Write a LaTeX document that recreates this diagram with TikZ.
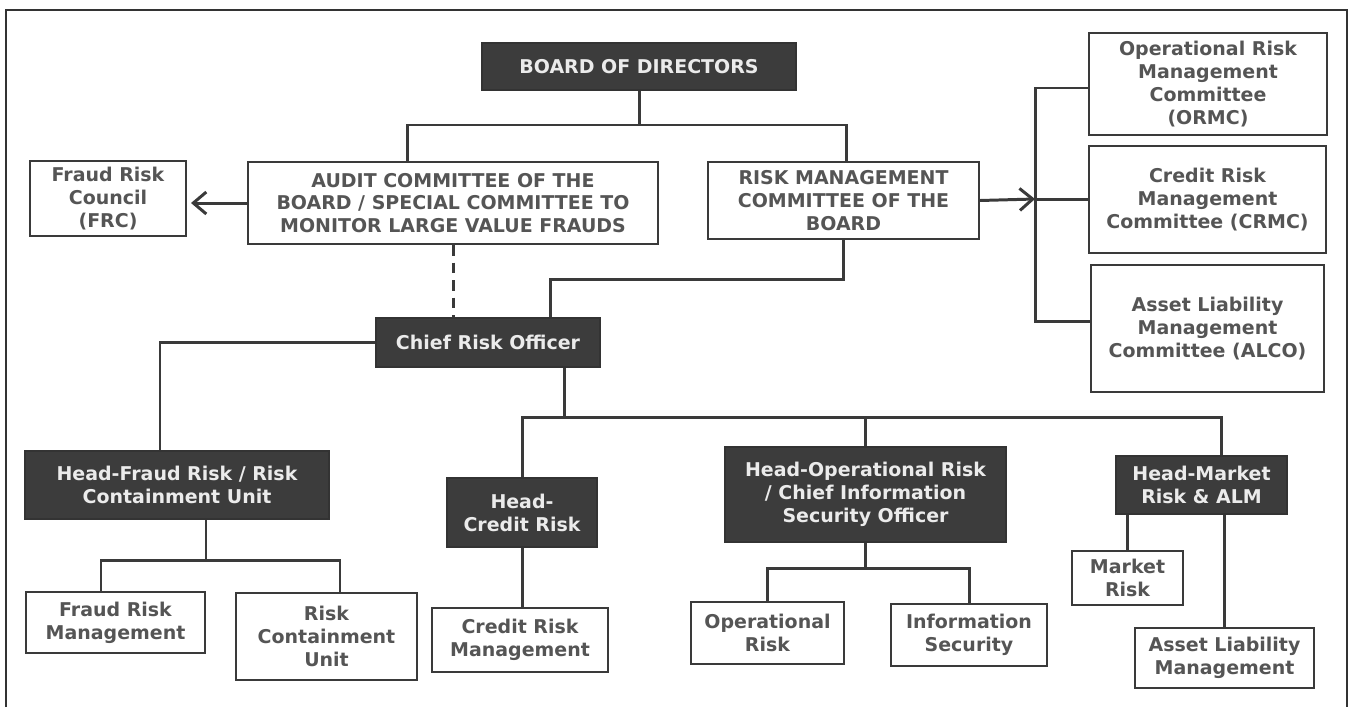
\documentclass[tikz,border=0pt]{standalone}
\usepackage{fontspec}
\setmainfont{DejaVu Sans}
\usetikzlibrary{arrows.meta}
\definecolor{Ink}{HTML}{3A3A3A}
\definecolor{Frame}{HTML}{333333}
\definecolor{DarkBox}{HTML}{3C3C3C}
\definecolor{Label}{HTML}{555555}
\tikzset{
  dims/.style 2 args={minimum width=#1*0.02cm,minimum height=#2*0.02cm},
  unit/.style={draw=Ink,fill=white,line width=1.1pt,align=center,inner sep=0pt,
    text=Label,font=\fontsize{10.8}{13}\selectfont\bfseries},
  head/.style={unit,fill=DarkBox,draw=Frame,text=white!92!black},
  link/.style={Ink,line width=1.7pt},
  tip/.style={-{Straight Barb[length=2.6mm,width=4.4mm]}},
}
\begin{document}
\begin{tikzpicture}[x=0.02cm,y=-0.02cm]
  \useasboundingbox (0,0) rectangle (1351,707);
  \draw[Frame,line width=1.1pt] (6,707) -- (6,10) -- (1347,10) -- (1347,707);
  % board level
  \node[head,dims={314}{47}] (board) at (639,66.5) {BOARD OF DIRECTORS};
  \node[unit,dims={410}{82}] (audit) at (453,203) {AUDIT COMMITTEE OF THE\\BOARD / SPECIAL COMMITTEE TO\\MONITOR LARGE VALUE FRAUDS};
  \node[unit,dims={156}{75}] (frc) at (108,198.5) {Fraud Risk\\Council\\(FRC)};
  \node[unit,dims={271}{77}] (rmc) at (843.5,200.5) {RISK MANAGEMENT\\COMMITTEE OF THE\\BOARD};
  \node[unit,dims={238}{102}] (ormc) at (1208,84) {Operational Risk\\Management\\Committee\\(ORMC)};
  \node[unit,dims={237}{107}] (crmc) at (1207.5,199.5) {Credit Risk\\Management\\Committee (CRMC)};
  \node[unit,dims={233}{127}] (alco) at (1207.5,328.5) {Asset Liability\\Management\\Committee (ALCO)};
  % officers
  \node[head,dims={224}{49}] (cro) at (488,342.5) {Chief Risk Officer};
  \node[head,dims={304}{68}] (hfraud) at (177,485) {Head-Fraud Risk / Risk\\Containment Unit};
  \node[head,dims={150}{69}] (hcredit) at (522,512.5) {Head-\\Credit Risk};
  \node[head,dims={281}{95}] (hop) at (865.5,494.5) {Head-Operational Risk\\/ Chief Information\\Security Officer};
  \node[head,dims={171}{58}] (hmarket) at (1201.5,485) {Head-Market\\Risk \& ALM};
  % functions
  \node[unit,dims={179}{61}] (frm) at (115.5,622.5) {Fraud Risk\\Management};
  \node[unit,dims={181}{87}] (rcu) at (326.5,636.5) {Risk\\Containment\\Unit};
  \node[unit,dims={176}{64}] (crm) at (520,640) {Credit Risk\\Management};
  \node[unit,dims={153}{62}] (oprisk) at (767.5,633) {Operational\\Risk};
  \node[unit,dims={156}{62}] (infosec) at (969,635) {Information\\Security};
  \node[unit,dims={111}{54}] (mrisk) at (1127.5,578) {Market\\Risk};
  \node[unit,dims={179}{60}] (alm) at (1224.5,658) {Asset Liability\\Management};
  % board connectors
  \coordinate (b1) at (407,125);
  \coordinate (b2) at (846,125);
  \draw[link] (board.south) -- (board.south |- b1);
  \draw[link] (b1 |- audit.north) -- (b1) -- (b2) -- (b2 |- rmc.north);
  \coordinate (a1) at (191,0);
  \draw[link,tip] (audit.west) -- (audit.west -| a1);
  \coordinate (r1) at (1035,88);
  \coordinate (r2) at (1035,199);
  \coordinate (r3) at (1035,321);
  \draw[link,tip] (rmc.east) -- (r2);
  \draw[link] (r1 -| ormc.west) -- (r1) -- (r3) -- (r3 -| alco.west);
  \draw[link] (r2) -- (r2 -| crmc.west);
  \draw[link,dashed,dash pattern=on 6pt off 4pt] (audit.south) -- (audit.south |- cro.north);
  \coordinate (c1) at (550,279);
  \draw[link] (rmc.south) |- (c1) -- (c1 |- cro.north);
  % officer connectors
  \coordinate (f1) at (160,0);
  \draw[link] (cro.west) -| (f1 |- hfraud.north);
  \coordinate (c2) at (564,417);
  \coordinate (m1) at (1221,0);
  \draw[link] (cro.south -| c2) -- (c2);
  \draw[link] (hcredit.north) |- (m1 |- c2) -- (m1 |- hmarket.north);
  \draw[link] (hop.north) -- (hop.north |- c2);
  % function connectors
  \coordinate (f2) at (206,560);
  \coordinate (f3) at (101,560);
  \coordinate (f4) at (340,560);
  \draw[link] (hfraud.south -| f2) -- (f2);
  \draw[link] (f3 |- frm.north) -- (f3) -- (f4) -- (f4 |- rcu.north);
  \draw[link] (hcredit.south) -- (hcredit.south |- crm.north);
  \coordinate (o1) at (0,568);
  \draw[link] (hop.south) -- (hop.south |- o1);
  \draw[link] (oprisk.north) |- (o1 -| infosec.north) -- (infosec.north);
  \draw[link] (mrisk.north |- hmarket.south) -- (mrisk.north);
  \draw[link] (alm.north |- hmarket.south) -- (alm.north);
\end{tikzpicture}
\end{document}
